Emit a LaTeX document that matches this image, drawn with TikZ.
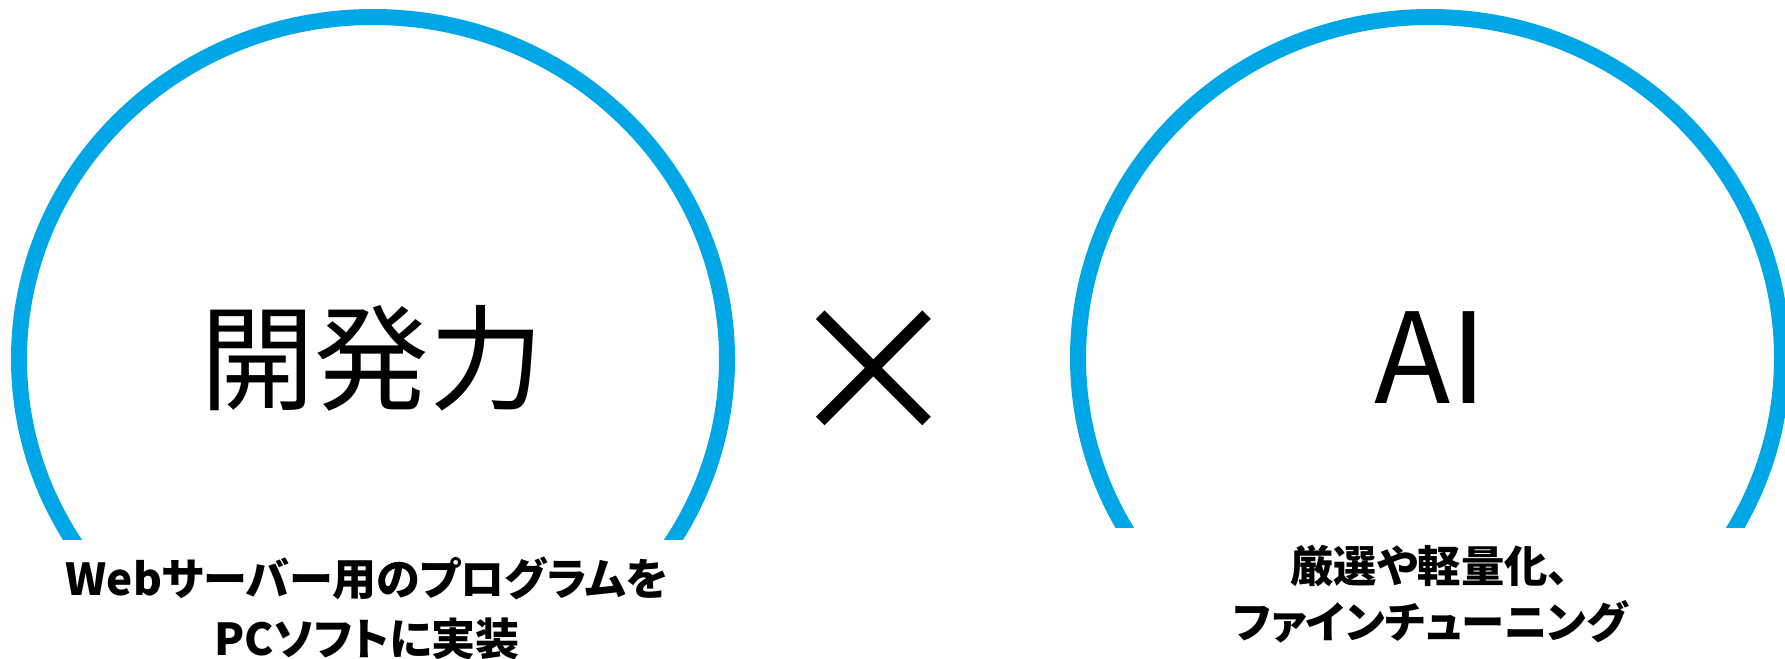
\documentclass[tikz,border=0pt]{standalone}
\usepackage{fontspec}
\usepackage{xcolor}
\usepackage{tikz}
\usetikzlibrary{positioning}
\newfontfamily\jpfont[RawFeature=+palt]{Noto Sans CJK JP}
\newfontfamily\jpwide{Noto Sans CJK JP}
\definecolor{ringblue}{RGB}{0,167,230}

\begin{document}
\begin{tikzpicture}[x=0.75pt, y=-0.75pt]
    \tikzstyle{ring} = [draw=ringblue, line width=12pt]
    \tikzstyle{title} = [font=\jpwide\fontsize{86}{100}\selectfont, inner sep=0pt, anchor=base]
    \tikzstyle{note} = [font=\jpfont\bfseries\fontsize{33}{45}\selectfont, align=center, inner sep=0pt]

    \useasboundingbox (0,0) rectangle (1785,658);

    \begin{scope}
        \clip (0,0) rectangle (900,539);
        \draw [ring] (373,359) ellipse [x radius=354, y radius=342];
    \end{scope}
    \begin{scope}
        \clip (900,0) rectangle (1785,527);
        \draw [ring] (1430,358) ellipse [x radius=352, y radius=341];
    \end{scope}

    \node [title] (dev) at (372,401) {開発力};
    \node [title, font=\jpwide\fontsize{134}{140}\selectfont] (times) at (874,435) {×};
    \node [title, font=\jpwide\fontsize{94}{100}\selectfont] (ai) at (1431,403) {AI};

    \node [note] (devnote) at (367,608) {Webサーバー用のプログラムを\\PCソフトに実装};
    \node [note, font=\jpfont\bfseries\fontsize{32.5}{42}\selectfont] (ainote) at (1430,594) {厳選や軽量化、\\ファインチューニング};
\end{tikzpicture}
\end{document}
